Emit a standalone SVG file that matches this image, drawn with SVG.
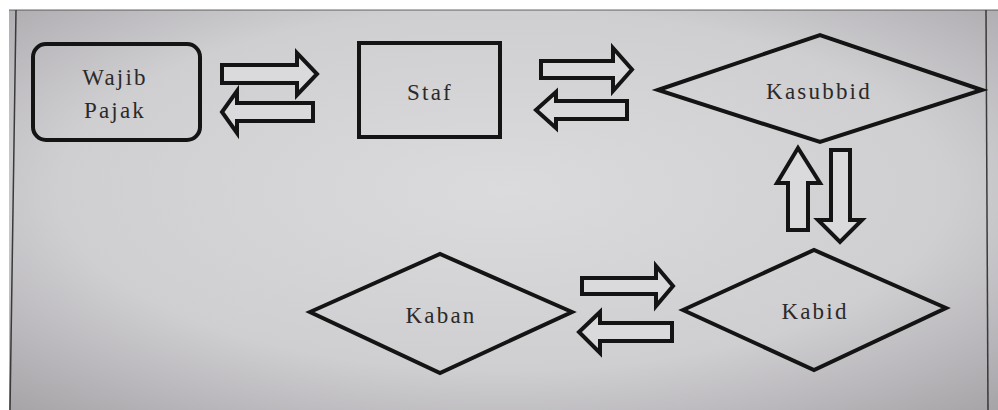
<svg xmlns="http://www.w3.org/2000/svg" width="998" height="410" viewBox="0 0 998 410">
<defs>
<radialGradient id="paper" cx="0.5" cy="0.45" r="0.75">
<stop offset="0" stop-color="#dbdadc"/>
<stop offset="0.6" stop-color="#cfced1"/>
<stop offset="1" stop-color="#a6a3a7"/>
</radialGradient>
<style>
.shape{fill:none;stroke:#141414;stroke-width:4;stroke-linejoin:miter}
.arrow{fill:#dadadc;stroke:#141414;stroke-width:4;stroke-linejoin:miter}
.lbl{font-size:23px;letter-spacing:2.2px;fill:#2a2a2a;text-anchor:middle}
.edge{stroke:#3a3a3a;stroke-width:1.5;fill:none}
</style>
</defs>
<rect x="0" y="0" width="998" height="410" fill="#ffffff"/>
<rect x="9" y="10" width="989" height="400" fill="url(#paper)"/>
<g id="frame">
<line class="edge" x1="9" y1="10" x2="998" y2="10" stroke-opacity="0.5"/>
<line class="edge" x1="16" y1="10" x2="10" y2="410"/>
<line class="edge" x1="986" y1="10" x2="988" y2="410"/>
</g>
<g id="connectors">
<path class="arrow" d="M222,65 H297 V53 L317,74 L297,95 V83 H222 Z"/>
<path class="arrow" d="M313,103 H237 V91 L222,112 L237,133 V121 H313 Z"/>
<path class="arrow" d="M541,61 H613 V48 L632,69.5 L613,91 V78 H541 Z"/>
<path class="arrow" d="M627,101 H556 V92 L536,110 L556,128 V119 H627 Z"/>
<path class="arrow" d="M788,230 V183 H777 L798,148 L820,183 H808 V230 Z"/>
<path class="arrow" d="M831,150 V220 H818 L840,242 L862,220 H850 V150 Z"/>
<path class="arrow" d="M582,278 H656 V266 L673,286 L656,306 V294 H582 Z"/>
<path class="arrow" d="M672,323 H600 V312 L579,332 L600,353 V341 H672 Z"/>
</g>
<g id="wajib-pajak">
<rect class="shape" x="33" y="44" width="167" height="96" rx="13" ry="13"/>
<text class="lbl" font-family="'Liberation Serif', 'DejaVu Serif', serif" x="115" y="85">Wajib</text>
<text class="lbl" font-family="'Liberation Serif', 'DejaVu Serif', serif" x="115" y="118">Pajak</text>
</g>
<g id="staf">
<rect class="shape" x="359" y="43" width="141" height="94"/>
<text class="lbl" font-family="'Liberation Serif', 'DejaVu Serif', serif" x="430" y="100">Staf</text>
</g>
<g id="kasubbid">
<polygon class="shape" points="658,90 820,35 982,90 820,142"/>
<text class="lbl" font-family="'Liberation Serif', 'DejaVu Serif', serif" x="819" y="99">Kasubbid</text>
</g>
<g id="kabid">
<polygon class="shape" points="683,310 814,250 946,308 814,370"/>
<text class="lbl" font-family="'Liberation Serif', 'DejaVu Serif', serif" x="815" y="319">Kabid</text>
</g>
<g id="kaban">
<polygon class="shape" points="310,312 440,254 572,312 440,373"/>
<text class="lbl" font-family="'Liberation Serif', 'DejaVu Serif', serif" x="441" y="323">Kaban</text>
</g>
</svg>
